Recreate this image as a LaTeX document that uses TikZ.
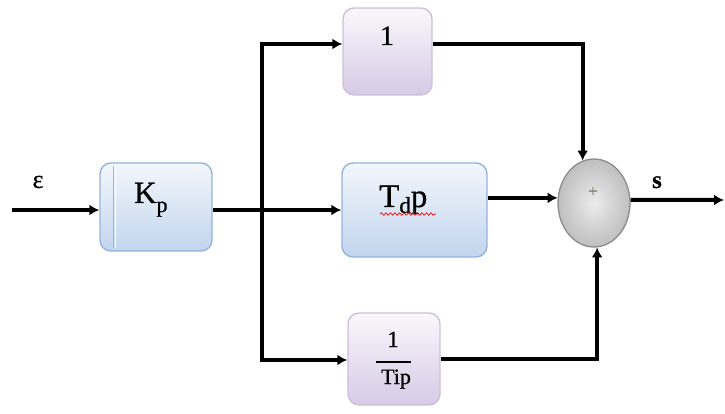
\documentclass[tikz,border=0pt]{standalone}
\usepackage{fontspec}
\setmainfont{Liberation Serif}
\newfontfamily\heavyserif{Liberation Serif}[FakeBold=0.7]
\usetikzlibrary{arrows.meta,shapes.geometric,decorations.pathmorphing}

\definecolor{boxbluetop}{HTML}{F3F7FC}
\definecolor{boxbluebot}{HTML}{C2D5EE}
\definecolor{boxblueedge}{HTML}{94B3DC}
\definecolor{lilactop}{HTML}{FAF8FC}
\definecolor{lilacbot}{HTML}{D7CAE6}
\definecolor{lilacedge}{HTML}{CDBFDD}
\definecolor{sumedge}{HTML}{8C8C8C}
\definecolor{plusgray}{HTML}{7A7A68}

\newcommand{\fsz}[1]{\heavyserif\fontsize{#1}{#1}\selectfont}

\begin{document}
\begin{tikzpicture}[x=1pt,y=-1pt,
  blk/.style={rectangle,rounded corners=11pt,line width=1.4pt,inner sep=0pt},
  bluebox/.style={blk,draw=boxblueedge,top color=boxbluetop,bottom color=boxbluebot},
  lilacbox/.style={blk,draw=lilacedge,top color=lilactop,bottom color=lilacbot},
  wire/.style={line width=4pt,black},
  arr/.style={wire,-{Latex[length=10pt,width=11pt]}},
  lbl/.style={inner sep=0pt}]

\useasboundingbox (0,0) rectangle (725,414);

% blocks
\node[bluebox,minimum width=112pt,minimum height=88pt] (kp) at (156,207) {};
\node[bluebox,minimum width=145pt,minimum height=94pt] (td) at (414.5,210) {};
\node[lilacbox,minimum width=89pt,minimum height=87pt] (one) at (387.5,51.5) {};
\node[lilacbox,minimum width=92pt,minimum height=92pt] (tip) at (394,359) {};
\node[ellipse,draw=sumedge,line width=1.3pt,inner color=gray!15,outer color=gray!50,
      minimum width=72pt,minimum height=88pt,inner sep=0pt] (sum) at (594,203) {};

% inner edge line of the gain block
\draw[gray!60,line width=1pt] (113,166) -- (113,248);
\draw[white,line width=0.8pt] (115,166) -- (115,248);

% block contents
\node[lbl,anchor=base west,font=\fsz{31}] (kpt) at (134,203) {K\raisebox{-9pt}{\fsz{22}p}};
\node[lbl,anchor=base west,font=\fsz{33}] (tdt) at (379,207) {T\raisebox{-6pt}{\fsz{23}d}p};
\draw[red,line width=0.7pt,decorate,decoration={snake,amplitude=1.2pt,segment length=4.5pt}]
  (380,214) -- (436,214);
\node[lbl,anchor=base,font=\fsz{28}] (onet) at (387,45) {1};
\node[lbl,anchor=base,font=\fsz{23}] (tipnum) at (393,347) {1};
\draw[line width=1.5pt] (376,362) -- (411,362);
\node[lbl,anchor=base,font=\fsz{22}] (tipden) at (396,384) {Tip};
\node[lbl,font=\fsz{17},text=plusgray] (plus) at (593,192) {+};

% signal labels
\node[lbl,anchor=base,font=\fsz{26}] (eps) at (38,188) {ε};
\node[lbl,anchor=base,font=\bfseries\fsz{25}] (sout) at (657,188) {s};

% connectors
\coordinate (in) at (12,210);
\coordinate (br) at (262,210);
\coordinate (brt) at (262,44);
\coordinate (brb) at (262,360);
\coordinate (out) at (724,200);

\draw[arr] (in) -- (in -| kp.west);
\draw[wire] (kp.east |- br) -- (br);
\draw[arr] (br) -- (td.west);
\draw[arr] (br) |- (brt -| one.west);
\draw[arr] (br) |- (brb -| tip.west);
\draw[arr] (one.east |- brt) -| (sum.105);
\draw[arr] (td.east |- sum.172) -- (sum.172);
\draw[arr] (tip.east) -| (sum.-86);
\draw[arr] (sum.5) -- (out);
\end{tikzpicture}
\end{document}
